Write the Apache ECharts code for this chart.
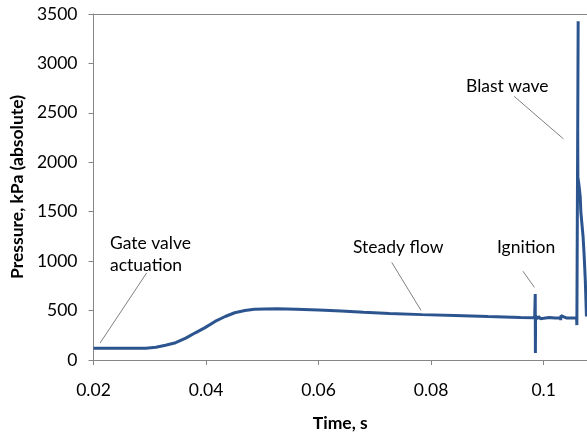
<!DOCTYPE html>
<html>
<head>
<meta charset="utf-8">
<script src="https://cdn.jsdelivr.net/npm/echarts@6/dist/echarts.min.js"></script>
<style>
  html, body { margin: 0; padding: 0; background: #fff; }
  #chart { width: 587px; height: 437px; }
</style>
</head>
<body>
<div id="chart"></div>
<script>
// Tempo (s) e pressão (kPa absoluta)
const timeValues = [
  0.0200, 0.0250, 0.0293, 0.0311, 0.0328, 0.0346, 0.0364, 0.0381, 0.0399, 0.0416,
  0.0434, 0.0451, 0.0469, 0.0486, 0.0504, 0.0526, 0.0560, 0.0600, 0.0640, 0.0680,
  0.0726, 0.0784, 0.0842, 0.0901, 0.0959, 0.0984,
  0.09850, 0.09853, 0.09856, 0.0988, 0.0991, 0.0994, 0.0997, 0.1000, 0.1010, 0.1020,
  0.10300, 0.10303, 0.10306, 0.1040, 0.1050, 0.10585, 0.10590, 0.10613, 0.10605, 0.10608,
  0.10625, 0.10650, 0.10660, 0.10700, 0.10720, 0.10740, 0.10760
]
const pressureValues = [
  118, 118, 120, 129, 149, 175, 221, 275, 330, 390,
  440, 478, 500, 513, 517, 518, 514, 505, 495, 482,
  470, 459, 449, 439, 430, 428,
  668, 72, 445, 415, 440, 418, 436, 422, 430, 424,
  426, 402, 448, 425, 424, 424, 353, 3426, 2330, 1850,
  1780, 1650, 1500, 1250, 1050, 800, 440
]

const xTicks = [0.02, 0.04, 0.06, 0.08, 0.1]
const yTicks = [0, 500, 1000, 1500, 2000, 2500, 3000, 3500]

// Linhas de chamada: [t1, p1, t2, p2]
const leaderLines = [
  [0.02116, 171, 0.02946, 882],
  [0.0730, 987, 0.0782, 502],
  [0.09632, 898, 0.09837, 734],
  [0.09475, 2667, 0.10351, 2237]
]
const annotationTexts = ['Gate valve\nactuation', 'Steady flow', 'Ignition', 'Blast wave']

const fontFamily = 'Lato, "Noto Sans", sans-serif'
const axisColor = '#868686'
const lineColor = '#2c5590'
const fontSize = 17.5

const seriesData = timeValues.map((t, i) => [t, pressureValues[i]])

const chart = echarts.init(document.getElementById('chart'))

const textStyle = (text) => ({ text, font: `${fontSize}px ${fontFamily}`, fill: '#000', lineHeight: 22 })

const option = {
  animation: false,
  grid: { left: 87, right: 0, top: 14, bottom: 70 },
  xAxis: [
    {
      type: 'value',
      min: xTicks[0],
      max: 0.1077,
      interval: 0.02,
      name: 'Time, s',
      nameLocation: 'middle',
      nameGap: 54,
      nameTextStyle: { fontFamily, fontSize, fontWeight: 'bold', color: '#000' },
      axisLine: { show: true, lineStyle: { color: axisColor } },
      axisTick: { show: true, length: 5, lineStyle: { color: axisColor } },
      axisLabel: {
        fontFamily, fontSize, color: '#000', margin: 21,
        showMaxLabel: false,
        formatter: v => (xTicks.some(x => Math.abs(x - v) < 1e-9) ? String(+v.toFixed(2)) : '')
      },
      splitLine: { show: false }
    },
    {
      type: 'value',
      position: 'top',
      min: xTicks[0],
      max: 0.1077,
      axisLine: { show: true, lineStyle: { color: axisColor } },
      axisTick: { show: false },
      axisLabel: { show: false },
      splitLine: { show: false }
    }
  ],
  yAxis: {
    type: 'value',
    min: yTicks[0],
    max: yTicks[yTicks.length - 1],
    interval: 500,
    name: 'Pressure, kPa (absolute)',
    nameLocation: 'middle',
    nameGap: 59,
    nameTextStyle: { fontFamily, fontSize, fontWeight: 'bold', color: '#000' },
    axisLine: { show: true, lineStyle: { color: axisColor } },
    axisTick: { show: true, length: 5, lineStyle: { color: axisColor } },
    axisLabel: { fontFamily, fontSize, color: '#000', margin: 16, formatter: v => String(v) },
    splitLine: { show: false }
  },
  series: [
    {
      type: 'line',
      data: seriesData,
      showSymbol: false,
      lineStyle: { color: lineColor, width: 3 },
      markLine: {
        silent: true,
        symbol: ['none', 'none'],
        label: { show: false },
        lineStyle: { color: '#7f7f7f', width: 1, type: 'solid' },
        data: leaderLines.map(l => [{ coord: [l[0], l[1]] }, { coord: [l[2], l[3]] }])
      }
    }
  ],
  graphic: [
    { type: 'text', left: 110, top: 232, style: textStyle(annotationTexts[0]) },
    { type: 'text', left: 353, top: 236, style: textStyle(annotationTexts[1]) },
    { type: 'text', left: 497, top: 236, style: textStyle(annotationTexts[2]) },
    { type: 'text', left: 466, top: 75, style: textStyle(annotationTexts[3]) }
  ]
}

chart.setOption(option)
</script>
</body>
</html>
